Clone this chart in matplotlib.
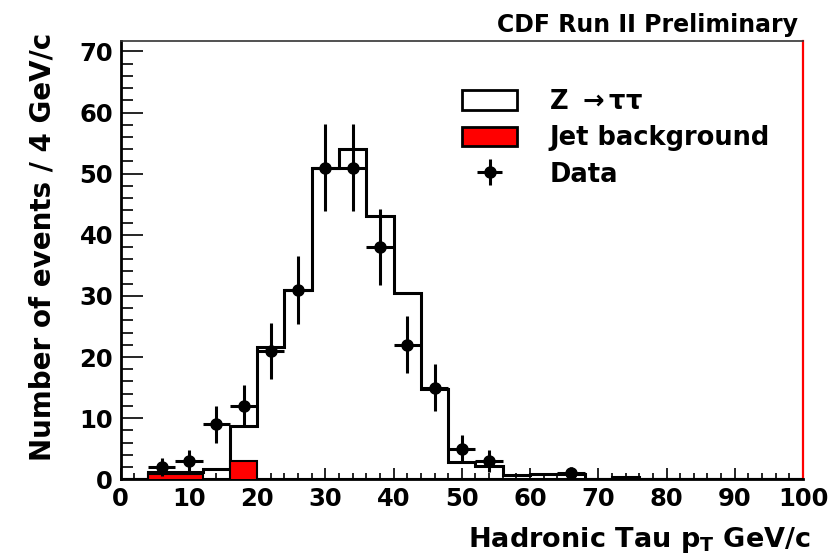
import numpy as np
import matplotlib
matplotlib.use("Agg")
import matplotlib.pyplot as plt
from matplotlib.patches import Patch

# tau pT binning: 4 GeV/c bins from 0 to 100
edges = np.arange(0, 104, 4)

# expected Z->tautau + jet background (stacked total) per bin
total = [0, 1.2, 1.2, 1.7, 8.7, 21.7, 31.0, 51.0, 54.0, 43.0, 30.4, 14.8, 2.9,
         2.2, 0.7, 0.9, 0.9, 0, 0.3, 0, 0, 0, 0, 0, 0]
# jet background per bin
jet = [0, 0.8, 0.8, 0, 3.0, 0, 0, 0, 0, 0, 0, 0, 0,
       0, 0, 0, 0, 0, 0, 0, 0, 0, 0, 0, 0]

# observed events (non-empty bins only)
data_x = [6, 10, 14, 18, 22, 26, 30, 34, 38, 42, 46, 50, 54, 66]
data_n = [2, 3, 9, 12, 21, 31, 51, 51, 38, 22, 15, 5, 3, 1]

plt.rcParams["font.family"] = "DejaVu Sans"
plt.rcParams["font.weight"] = "bold"

fig = plt.figure(figsize=(8.4, 5.59), dpi=100)
ax = fig.add_axes([120.7 / 840, 1 - 479.3 / 559, (803 - 120.7) / 840, (479.3 - 41) / 559])

ax.stairs(total, edges, fill=True, facecolor="white", edgecolor="none", zorder=1)
ax.stairs(total, edges, color="black", lw=2.2, zorder=2)
ax.stairs(jet, edges, fill=True, facecolor="#ff0000", edgecolor="black", lw=1.5, zorder=3)

err = np.sqrt(data_n)
dat = ax.errorbar(data_x, data_n, xerr=2, yerr=err, fmt="o", color="black",
                  ms=8, lw=2.2, capsize=0, zorder=4)

ax.set_xlim(0, 100)
ax.set_ylim(0, 71.7)
ax.set_xticks(np.arange(0, 101, 10))
ax.set_xticks(np.arange(0, 101, 2), minor=True)
ax.set_yticks(np.arange(0, 71, 10))
ax.set_yticks(np.arange(0, 71, 2), minor=True)
ax.tick_params(axis="both", which="both", direction="in", width=1.2, labelsize=17.5,
               top=False, right=False, pad=5.5)
ax.tick_params(axis="x", which="major", length=8)
ax.tick_params(axis="x", which="minor", length=4.3)
ax.tick_params(axis="y", which="major", length=15.8)
ax.tick_params(axis="y", which="minor", length=8.6)
for lab in ax.get_xticklabels() + ax.get_yticklabels():
    lab.set_fontweight("bold")

ax.spines["left"].set_linewidth(2.0)
ax.spines["bottom"].set_linewidth(2.0)
ax.spines["top"].set_linewidth(1.2)
ax.spines["top"].set_color("#333333")
ax.spines["right"].set_linewidth(1.6)
ax.spines["right"].set_color("#ff0000")

fig.text(811 / 840, 1 - 540 / 559, r"Hadronic Tau p$_\mathbf{T}$ GeV/c", ha="right", va="center",
         fontsize=19.5, fontweight="bold")
fig.text(43 / 840, 1 - 247 / 559, "Number of events / 4 GeV/c", rotation=90, ha="center",
         va="center", fontsize=20, fontweight="bold")
fig.text(798 / 840, 1 - 32 / 559, "CDF Run II Preliminary", ha="right", va="baseline",
         fontsize=17, fontweight="bold")

handles = [Patch(facecolor="white", edgecolor="black", lw=2),
           Patch(facecolor="#ff0000", edgecolor="black", lw=2),
           dat]
labels = [r"Z $\rightarrow\mathrm{\tau\tau}$", "Jet background", "Data"]
ax.legend(handles, labels, loc="upper left", bbox_to_anchor=(462 / 840, 1 - 89 / 559),
          bbox_transform=fig.transFigure, frameon=False, borderpad=0,
          borderaxespad=0, handlelength=2.15, handleheight=0.8, handletextpad=1.25,
          labelspacing=0.4, prop={"weight": "bold", "size": 18.5})

fig.savefig("out.png", dpi=100)
